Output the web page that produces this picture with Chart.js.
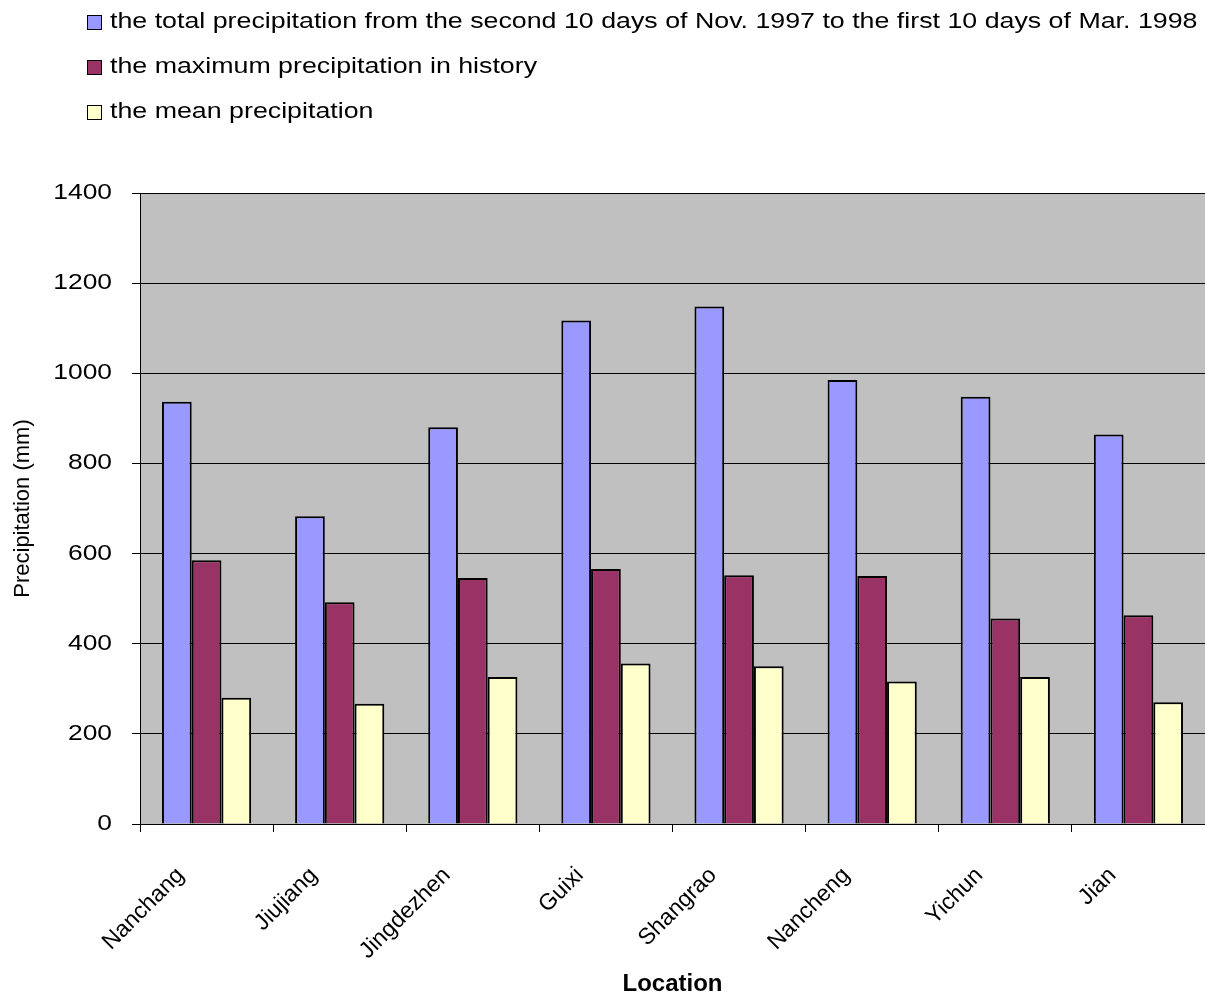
<!DOCTYPE html>
<html>
<head>
<meta charset="utf-8">
<script src="https://cdn.jsdelivr.net/npm/chart.js@4.4.0/dist/chart.umd.min.js"></script>
<style>
  html, body { margin: 0; padding: 0; background: #ffffff; }
  #wrap { position: relative; width: 1205px; height: 1000px; }
</style>
</head>
<body>
<div id="wrap"><canvas id="chart"></canvas></div>
<script>
// ---- data ----
const categories = ['Nanchang', 'Jiujiang', 'Jingdezhen', 'Guixi', 'Shangrao', 'Nancheng', 'Yichun', 'Jian'];
const seriesNames = [
  'the total precipitation from the second 10 days of Nov. 1997 to the first 10 days of Mar. 1998',
  'the maximum precipitation in history',
  'the mean precipitation'
];
const totalPrecip = [937, 683, 880, 1117, 1148, 985, 948, 864];
const maxPrecip   = [585, 492, 546, 566, 552, 550, 456, 463];
const meanPrecip  = [280, 267, 326, 356, 350, 316, 326, 270];
const yTicks = [0, 200, 400, 600, 800, 1000, 1200, 1400];
const xTitle = 'Location';
const yTitle = 'Precipitation (mm)';

// ---- style ----
const FONT = '"Liberation Sans", Arial, Helvetica, sans-serif';
const colors = ['#9999FF', '#993366', '#FFFFCC'];
const TEXT_STRETCH = 1.2;   // the original's text is drawn horizontally widened

Chart.defaults.font.family = FONT;
Chart.defaults.color = '#000';

// linear scale whose tick labels are drawn horizontally widened (right edge kept in place)
class WideLinearScale extends Chart.LinearScale {
  drawLabels(chartArea) {
    const ctx = this.ctx;
    const tl = this.options.grid.tickLength || 0;
    const pad = this.options.ticks.padding || 0;
    const ax = this.right - tl - pad;
    ctx.save();
    ctx.translate(ax, 0);
    ctx.scale(TEXT_STRETCH, 1);
    ctx.translate(-ax, 0);
    super.drawLabels(chartArea);
    ctx.restore();
  }
}
WideLinearScale.id = 'wideLinear';
WideLinearScale.defaults = Chart.LinearScale.defaults;
Chart.register(WideLinearScale);

const plotBg = {
  id: 'plotBg',
  beforeDraw(chart) {
    const { ctx, chartArea: a } = chart;
    ctx.save();
    ctx.fillStyle = '#C0C0C0';
    ctx.fillRect(a.left, a.top, a.right - a.left, a.bottom - a.top);
    ctx.restore();
  }
};

const stackedLegend = {
  id: 'stackedLegend',
  afterDraw(chart) {
    const ctx = chart.ctx;
    ctx.save();
    ctx.font = '22px ' + FONT;
    ctx.textBaseline = 'middle';
    ctx.textAlign = 'left';
    chart.data.datasets.forEach((ds, i) => {
      const cy = 22 + i * 45;
      ctx.fillStyle = ds.backgroundColor;
      ctx.fillRect(87, cy - 7, 15, 15);
      ctx.strokeStyle = '#000';
      ctx.lineWidth = 1;
      ctx.strokeRect(87.5, cy - 6.5, 14, 14);
      ctx.save();
      ctx.translate(110, cy);
      ctx.scale(1.217, 1);
      ctx.fillStyle = '#000';
      ctx.fillText(ds.label, 0, 0);
      ctx.restore();
    });
    ctx.restore();
  }
};

const seriesValues = [totalPrecip, maxPrecip, meanPrecip];

new Chart(document.getElementById('chart'), {
  type: 'bar',
  data: {
    labels: categories,
    datasets: seriesValues.map((vals, i) => ({
      label: seriesNames[i],
      data: vals,
      backgroundColor: colors[i],
      borderColor: '#000',
      borderWidth: 2,
      categoryPercentage: 0.67,
      barPercentage: 1.0
    }))
  },
  options: {
    responsive: true,
    maintainAspectRatio: false,
    animation: false,
    layout: { padding: { top: 193, right: 0, bottom: 0, left: 0 } },
    plugins: {
      legend: { display: false },
      tooltip: { enabled: false }
    },
    scales: {
      x: {
        offset: true,
        grid: { offset: true, drawOnChartArea: false, drawTicks: true, tickLength: 8, color: '#000' },
        border: { color: '#000', width: 1 },
        ticks: {
          autoSkip: false,
          minRotation: 45,
          maxRotation: 45,
          color: '#000',
          font: { size: 23 },
          padding: 30,
          labelOffset: -26
        },
        title: {
          display: true,
          text: xTitle,
          color: '#000',
          font: { size: 24, weight: 'bold' },
          padding: { top: 0, bottom: 1 }
        },
        afterFit(scale) { scale.height = 176; }
      },
      y: {
        type: 'wideLinear',
        min: 0,
        max: 1400,
        afterBuildTicks(scale) { scale.ticks = yTicks.map(v => ({ value: v })); },
        grid: { color: '#000', lineWidth: 1, drawTicks: true, tickLength: 8 },
        border: { color: '#000', width: 1 },
        ticks: {
          color: '#000',
          font: { size: 22 },
          padding: 20,
          callback: (v) => String(v)
        },
        title: {
          display: true,
          text: yTitle,
          color: '#000',
          font: { size: 22 },
          padding: { top: 10, bottom: 0 }
        },
        afterFit(scale) { scale.width = 140; }
      }
    }
  },
  plugins: [plotBg, stackedLegend]
});
</script>
</body>
</html>
